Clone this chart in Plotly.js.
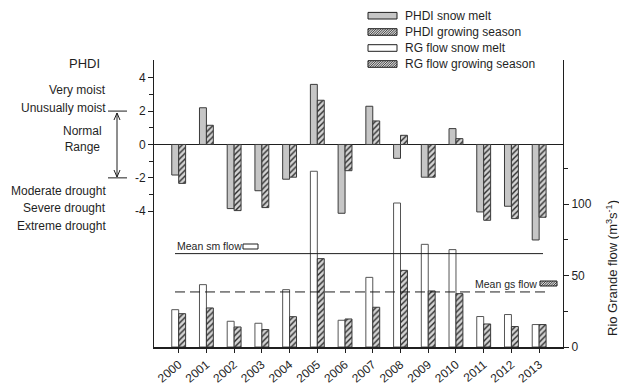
<!DOCTYPE html>
<html>
<head>
<meta charset="utf-8">
<script src="https://cdn.plot.ly/plotly-3.0.1.min.js"></script>
<style>html,body{margin:0;padding:0;background:#fff;}#chart{width:619px;height:386px;}</style>
</head>
<body>
<div id="chart"></div>
<script>
// ---- data ----
const years = ["2000","2001","2002","2003","2004","2005","2006","2007","2008","2009","2010","2011","2012","2013"];
const phdiSnowMelt = [-1.83, 2.2, -3.84, -2.77, -2.08, 3.6, -4.12, 2.29, -0.83, -1.96, 0.95, -4.04, -3.7, -5.72];
const phdiGrowing  = [-2.33, 1.15, -3.96, -3.78, -1.96, 2.65, -1.57, 1.41, 0.55, -1.96, 0.35, -4.54, -4.44, -4.36];
const flowSnowMelt = [26.1, 43.6, 18.0, 16.6, 40.1, 122.9, 18.7, 48.7, 100.7, 71.8, 68.1, 21.3, 22.7, 15.7];
const flowGrowing  = [23.3, 27.3, 14.0, 12.2, 21.2, 61.8, 19.6, 27.8, 53.6, 39.2, 37.3, 16.1, 14.3, 15.7];
const meanSmFlow = 65.3;
const meanGsFlow = 38.5;
const phdiTicks = [-4, -2, 0, 2, 4];
const flowTicks = [0, 50, 100];
const seriesNames = ["PHDI snow melt", "PHDI growing season", "RG flow snow melt", "RG flow growing season"];
const phdiClasses = ["Very moist", "Unusually moist", "Moderate drought", "Severe drought", "Extreme drought"];
const phdiClassLevels = [3.26, 2.17, -2.78, -3.82, -4.86];

// ---- layout helpers ----
const L = 154, T = 60, W = 409, H = 287;
const px = x => (x - L) / W;
const py = y => (T + H - y) / H;
const ink = '#1f1f1f';
const FONT = 'Liberation Sans, Arial, sans-serif';

const hatch = {shape: '/', fgcolor: '#2b2b2b', bgcolor: '#d4d4d4', size: 4, solidity: 0.35};
const outline = {color: '#3a3a3a', width: 1};
const styles = [
  {color: '#c6c6c6', line: outline},
  {color: '#d4d4d4', pattern: hatch, line: outline},
  {color: '#ffffff', line: {color: '#555', width: 1}},
  {color: '#d4d4d4', pattern: hatch, line: outline}
];

const traces = [
  {type: 'bar', name: seriesNames[0], x: years, y: phdiSnowMelt, yaxis: 'y', offset: -0.25, width: 0.25, marker: styles[0]},
  {type: 'bar', name: seriesNames[1], x: years, y: phdiGrowing, yaxis: 'y', offset: 0, width: 0.25, marker: styles[1]},
  {type: 'bar', name: seriesNames[2], x: years, y: flowSnowMelt, yaxis: 'y2', offset: -0.25, width: 0.25, marker: styles[2]},
  {type: 'bar', name: seriesNames[3], x: years, y: flowGrowing, yaxis: 'y2', offset: 0, width: 0.25, marker: styles[3]}
];

// hatch lines inside a small pixel box
function hatchPath(x0, y0, x1, y1, step) {
  let d = '';
  const h = y1 - y0;
  for (let s = x0 - h + step / 2; s < x1; s += step) {
    let ax = s, ay = y1, bx = s + h, by = y0;
    if (ax < x0) { ay = y1 - (x0 - ax); ax = x0; }
    if (bx > x1) { by = y0 + (bx - x1); bx = x1; }
    d += `M${px(ax)},${py(ay)}L${px(bx)},${py(by)}`;
  }
  return d;
}
function rectPx(x0, y0, x1, y1, fill) {
  return {type: 'rect', xref: 'paper', yref: 'paper', x0: px(x0), x1: px(x1), y0: py(y1), y1: py(y0),
    fillcolor: fill, line: {color: ink, width: 1}};
}

const annotations = [];
const shapes = [];

// manual legend
const legRows = [15.7, 32, 48, 64];
seriesNames.forEach((n, i) => {
  const yc = legRows[i];
  const hatched = !!styles[i].pattern;
  shapes.push(rectPx(368, yc - 3.3, 397, yc + 3.3, hatched ? '#d4d4d4' : styles[i].color));
  if (hatched) shapes.push({type: 'path', xref: 'paper', yref: 'paper', path: hatchPath(368, yc - 3.3, 397, yc + 3.3, 2.4), line: {color: ink, width: 0.8}});
  annotations.push({text: n, xref: 'paper', yref: 'paper', x: px(403), y: py(yc), showarrow: false,
    xanchor: 'left', yanchor: 'middle', font: {size: 12, color: ink}});
});

annotations.push({text: 'PHDI', xref: 'paper', yref: 'paper', x: px(84), y: py(63), showarrow: false,
  xanchor: 'center', yanchor: 'middle', font: {size: 13, color: ink}});
phdiClasses.forEach((c, i) => {
  annotations.push({text: c, xref: 'paper', yref: 'y', x: px(108), y: phdiClassLevels[i], showarrow: false,
    xanchor: 'right', yanchor: 'middle', font: {size: 12, color: ink}});
});
annotations.push({text: 'Normal<br>Range', xref: 'paper', yref: 'y', x: px(82), y: 0.3, showarrow: false,
  xanchor: 'center', yanchor: 'middle', align: 'center', font: {size: 12, color: ink}});
annotations.push({text: 'Mean sm flow', xref: 'paper', yref: 'paper', x: px(175), y: py(246), showarrow: false,
  xanchor: 'left', yanchor: 'middle', font: {size: 10.5, color: ink}});
annotations.push({text: 'Mean gs flow', xref: 'paper', yref: 'paper', x: px(473), y: py(284), showarrow: false,
  xanchor: 'left', yanchor: 'middle', font: {size: 10.5, color: ink}});
annotations.push({text: 'Rio Grande flow (m<sup>3</sup>s<sup>-1</sup>)', xref: 'paper', yref: 'paper',
  x: px(612), y: py(268), showarrow: false, textangle: -90, xanchor: 'center', yanchor: 'middle',
  font: {size: 13, color: ink}});

// PHDI normal range markers and double arrow
shapes.push({type: 'line', xref: 'paper', yref: 'y', x0: px(108), x1: px(127), y0: 2, y1: 2, line: {color: ink, width: 1}});
shapes.push({type: 'line', xref: 'paper', yref: 'y', x0: px(108), x1: px(127), y0: -2, y1: -2, line: {color: ink, width: 1}});
const ax = 117, aTop = 113, aBot = 177;
shapes.push({type: 'path', xref: 'paper', yref: 'paper', line: {color: ink, width: 1},
  path: `M${px(ax)},${py(aTop)}L${px(ax)},${py(aBot)}` +
        `M${px(ax - 3)},${py(aTop + 7)}L${px(ax)},${py(aTop)}L${px(ax + 3)},${py(aTop + 7)}` +
        `M${px(ax - 3)},${py(aBot - 7)}L${px(ax)},${py(aBot)}L${px(ax + 3)},${py(aBot - 7)}`});

// mean flow lines
shapes.push({type: 'line', xref: 'paper', yref: 'y2', x0: px(175), x1: px(543), y0: meanSmFlow, y1: meanSmFlow, line: {color: ink, width: 1}});
shapes.push({type: 'line', xref: 'paper', yref: 'y2', x0: px(175), x1: px(545), y0: meanGsFlow, y1: meanGsFlow, line: {color: ink, width: 1, dash: '10px,5px'}});
// small keys beside mean labels
shapes.push(rectPx(243, 244, 258, 249, '#fff'));
shapes.push(rectPx(540, 281, 557, 286, '#d4d4d4'));
shapes.push({type: 'path', xref: 'paper', yref: 'paper', path: hatchPath(540, 281, 557, 286, 2.4), line: {color: ink, width: 0.8}});

const layout = {
  width: 619, height: 386,
  margin: {l: L, r: 619 - L - W, t: T, b: 386 - T - H, pad: 0},
  paper_bgcolor: '#fff', plot_bgcolor: '#fff',
  font: {family: FONT, size: 12, color: ink},
  barmode: 'overlay',
  showlegend: false,
  xaxis: {type: 'category', range: [-0.89, 13.86], showgrid: false, zeroline: false, automargin: false,
    showline: true, linecolor: ink, linewidth: 2, ticks: 'outside', ticklen: 4, tickcolor: ink,
    tickangle: -40, tickfont: {size: 12, color: ink}},
  yaxis: {range: [-12.13, 5.06], tickvals: phdiTicks, ticktext: phdiTicks.map(String), automargin: false,
    showgrid: false, zeroline: true, zerolinecolor: ink, zerolinewidth: 1,
    showline: true, linecolor: ink, linewidth: 1, ticks: 'outside', ticklen: 5, tickcolor: ink,
    minor: {tickvals: [-3, -1, 1, 3], ticks: 'outside', ticklen: 4, tickcolor: ink},
    tickfont: {size: 12, color: ink}},
  yaxis2: {overlaying: 'y', side: 'right', range: [0, 200.7], tickvals: flowTicks, automargin: false,
    showgrid: false, zeroline: false, showline: true, linecolor: ink, linewidth: 1,
    ticks: 'outside', ticklen: 5, tickcolor: ink,
    minor: {tickvals: [25, 75, 125], ticks: 'outside', ticklen: 4, tickcolor: ink},
    tickfont: {size: 12, color: ink}},
  annotations: annotations,
  shapes: shapes
};

Plotly.newPlot('chart', traces, layout, {displayModeBar: false, staticPlot: true});
</script>
</body>
</html>
